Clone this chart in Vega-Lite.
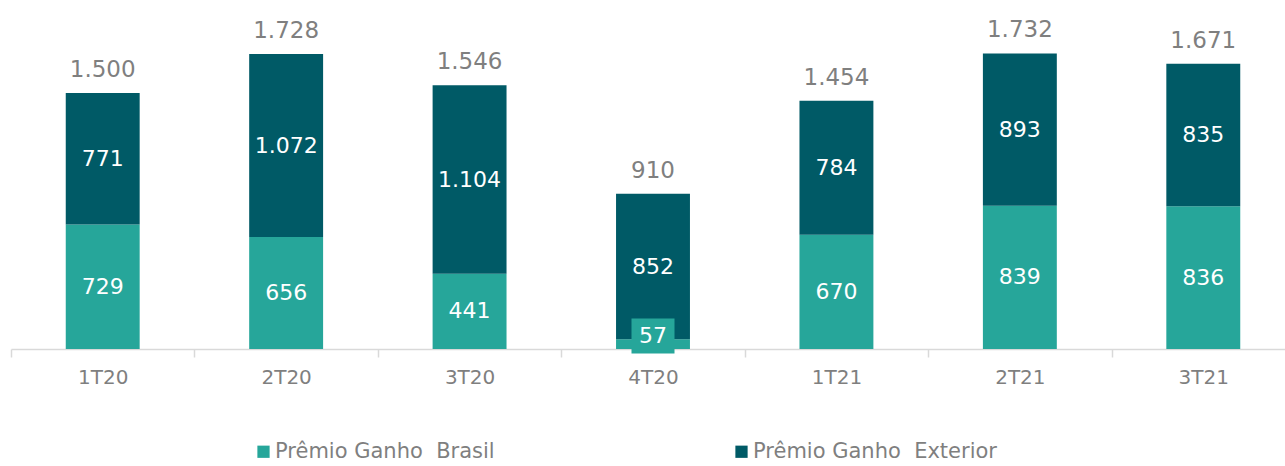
{
  "$schema": "https://vega.github.io/schema/vega-lite/v6.json",
  "width": 1284,
  "height": 349,
  "autosize": "none",
  "padding": {"left": 11, "top": 0, "right": 0, "bottom": 117},
  "background": "white",
  "config": {
    "view": {"stroke": null},
    "font": "DejaVu Sans",
    "locale": {"number": {"decimal": ",", "thousands": ".", "grouping": [3], "currency": ["R$", ""]}}
  },
  "datasets": {
    "parts": [
      {"quarter": "1T20", "series": "Prêmio Ganho\u00a0 Brasil", "value": 729},
      {"quarter": "1T20", "series": "Prêmio Ganho\u00a0 Exterior", "value": 771},
      {"quarter": "2T20", "series": "Prêmio Ganho\u00a0 Brasil", "value": 656},
      {"quarter": "2T20", "series": "Prêmio Ganho\u00a0 Exterior", "value": 1072},
      {"quarter": "3T20", "series": "Prêmio Ganho\u00a0 Brasil", "value": 441},
      {"quarter": "3T20", "series": "Prêmio Ganho\u00a0 Exterior", "value": 1104},
      {"quarter": "4T20", "series": "Prêmio Ganho\u00a0 Brasil", "value": 57},
      {"quarter": "4T20", "series": "Prêmio Ganho\u00a0 Exterior", "value": 852},
      {"quarter": "1T21", "series": "Prêmio Ganho\u00a0 Brasil", "value": 670},
      {"quarter": "1T21", "series": "Prêmio Ganho\u00a0 Exterior", "value": 784},
      {"quarter": "2T21", "series": "Prêmio Ganho\u00a0 Brasil", "value": 839},
      {"quarter": "2T21", "series": "Prêmio Ganho\u00a0 Exterior", "value": 893},
      {"quarter": "3T21", "series": "Prêmio Ganho\u00a0 Brasil", "value": 836},
      {"quarter": "3T21", "series": "Prêmio Ganho\u00a0 Exterior", "value": 835}
    ],
    "totals": [
      {"quarter": "1T20", "total": 1500},
      {"quarter": "2T20", "total": 1728},
      {"quarter": "3T20", "total": 1546},
      {"quarter": "4T20", "total": 910},
      {"quarter": "1T21", "total": 1454},
      {"quarter": "2T21", "total": 1732},
      {"quarter": "3T21", "total": 1671}
    ]
  },
  "encoding": {
    "x": {
      "field": "quarter",
      "type": "nominal",
      "sort": ["1T20", "2T20", "3T20", "4T20", "1T21", "2T21", "3T21"],
      "scale": {"paddingInner": 0, "paddingOuter": 0},
      "axis": {
        "title": null,
        "labelAngle": 0,
        "labelFontSize": 20,
        "labelColor": "#7F7F7F",
        "domainColor": "#D9D9D9",
        "domainWidth": 1.5,
        "tickColor": "#D9D9D9",
        "tickWidth": 1.5,
        "tickSize": 8,
        "tickBand": "extent",
        "labelPadding": 10
      }
    }
  },
  "layer": [
    {
      "data": {"name": "parts"},
      "mark": {"type": "bar", "width": {"band": 0.403}},
      "encoding": {
        "y": {"field": "value", "type": "quantitative", "stack": "zero", "scale": {"domain": [0, 2045], "nice": false}, "axis": null},
        "color": {
          "field": "series",
          "type": "nominal",
          "scale": {"domain": ["Prêmio Ganho\u00a0 Brasil", "Prêmio Ganho\u00a0 Exterior"], "range": ["#26A69A", "#005A66"]},
          "legend": {
            "orient": "none",
            "legendX": 242,
            "legendY": 441,
            "direction": "horizontal",
            "title": null,
            "symbolType": "square",
            "symbolSize": 150,
            "symbolStrokeWidth": 0,
            "labelFontSize": 21,
            "labelColor": "#7F7F7F",
            "labelOffset": 1,
            "labelLimit": 400,
            "columnPadding": 236
          }
        },
        "order": {"field": "series", "sort": "ascending"}
      }
    },
    {
      "data": {"name": "parts"},
      "transform": [
        {"stack": "value", "groupby": ["quarter"], "sort": [{"field": "series", "order": "ascending"}], "as": ["v0", "v1"]},
        {"calculate": "max((datum.v0 + datum.v1) / 2, 76)", "as": "mid"},
        {"filter": "datum.value < 100"}
      ],
      "mark": {"type": "point", "filled": true, "opacity": 1, "shape": "M-1,-0.81L1,-0.81L1,0.81L-1,0.81Z", "size": 1849, "color": "#26A69A"},
      "encoding": {
        "y": {"field": "mid", "type": "quantitative"}
      }
    },
    {
      "data": {"name": "parts"},
      "transform": [
        {"stack": "value", "groupby": ["quarter"], "sort": [{"field": "series", "order": "ascending"}], "as": ["v0", "v1"]},
        {"calculate": "max((datum.v0 + datum.v1) / 2, 76)", "as": "mid"}
      ],
      "mark": {"type": "text", "color": "white", "fontSize": 22, "baseline": "middle"},
      "encoding": {
        "y": {"field": "mid", "type": "quantitative"},
        "text": {"field": "value", "type": "quantitative", "format": ",d"}
      }
    },
    {
      "data": {"name": "totals"},
      "mark": {"type": "text", "color": "#7F7F7F", "fontSize": 23, "baseline": "alphabetic", "dy": -16},
      "encoding": {
        "y": {"field": "total", "type": "quantitative"},
        "text": {"field": "total", "type": "quantitative", "format": ",d"}
      }
    }
  ]
}
